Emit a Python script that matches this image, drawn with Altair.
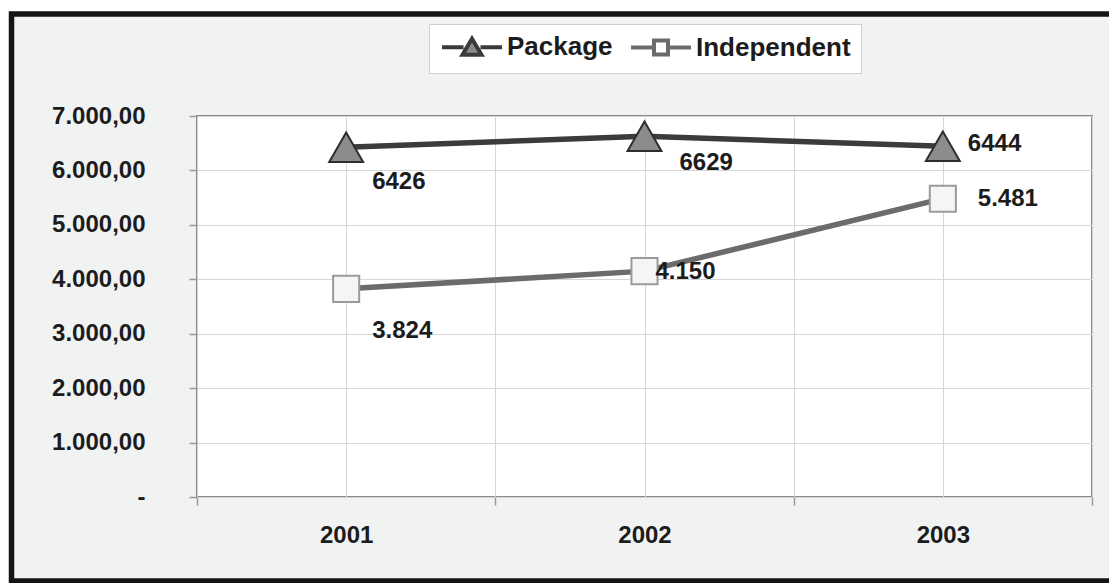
import altair as alt
import pandas as pd

# ---------------- data ----------------
years = [2001, 2002, 2003]
series_names = ["Package", "Independent"]
package_values = [6426, 6629, 6444]
independent_values = [3824, 4150, 5481]
package_labels = ["6426", "6629", "6444"]
independent_labels = ["3.824", "4.150", "5.481"]
y_ticks = [0, 1000, 2000, 3000, 4000, 5000, 6000, 7000]
x_grid = [2000.5, 2001, 2001.5, 2002, 2002.5, 2003, 2003.5]

rows = []
for i, yr in enumerate(years):
    rows.append({"year": yr, "series": "Package", "value": package_values[i], "label": package_labels[i]})
    rows.append({"year": yr, "series": "Independent", "value": independent_values[i], "label": independent_labels[i]})
df = pd.DataFrame(rows)

# ---------------- styles ----------------
W, H = 895, 381
LEFT, TOP = 197, 116
FONT = "Liberation Sans"
TXT = "#1c1c1c"
GRID = "#d6d6d6"

label_offsets = {
    ("Package", 2001): (26, 35),
    ("Package", 2002): (35, 27),
    ("Package", 2003): (25, -2),
    ("Independent", 2001): (26, 42),
    ("Independent", 2002): (11, 1),
    ("Independent", 2003): (35, 0),
}

pkg_legend_path = "M-1,0H1.15 M2.85,0H5 M2,-0.85L2.95,0.75H1.05Z"
ind_legend_path = "M-1,0H1.3 M2.7,0H5 M1.3,-0.7H2.7V0.7H1.3Z"

x_scale = alt.Scale(domain=[2000.5, 2003.5], nice=False, zero=False)
y_scale = alt.Scale(domain=[0, 7000], nice=False, zero=True)

x_axis = alt.Axis(
    title=None,
    values=x_grid,
    labelExpr="datum.value % 1 == 0 ? toString(datum.value) : ''",
    labelOverlap=False,
    labelFlush=False,
    labelFont=FONT, labelFontSize=24, labelFontWeight="bold", labelColor=TXT,
    labelPadding=18,
    domain=False,
    grid=True, gridColor=GRID, gridWidth=1,
    ticks=True, tickSize=8, tickColor="#9a9a9a", tickWidth=1.5,
    tickOpacity={"condition": {"test": "datum.value % 1 != 0", "value": 1}, "value": 0},
)
y_axis = alt.Axis(
    title=None,
    values=y_ticks,
    labelExpr="datum.value == 0 ? '-\u00a0\u00a0\u00a0\u00a0' : replace(replace(replace(format(datum.value, ',.2f'), ',', '#'), '.', ','), '#', '.')",
    labelFont=FONT, labelFontSize=24, labelFontWeight="bold", labelColor=TXT,
    labelPadding=44, labelBaseline="middle",
    domain=False,
    grid=True, gridColor=GRID, gridWidth=1,
    ticks=True, tickSize=8, tickColor="#9a9a9a", tickWidth=1.5,
)

x_enc = alt.X("year:Q", scale=x_scale, axis=x_axis)
y_enc = alt.Y("value:Q", scale=y_scale, axis=y_axis)

base = alt.Chart(df)
one = alt.Data(values=[{"k": 1}])

# white strip outside the black frame
mask = alt.Chart(one).mark_rect(fillOpacity=0, stroke="white", strokeWidth=24).encode(
    x=alt.value(-LEFT - 1), x2=alt.value(2000), y=alt.value(-TOP), y2=alt.value(2000)
)
frame = alt.Chart(one).mark_rect(fillOpacity=0, stroke="#151515", strokeWidth=5.5).encode(
    x=alt.value(11.5 - LEFT), x2=alt.value(1300), y=alt.value(14 - TOP), y2=alt.value(581 - TOP)
)

legend_layer = base.mark_point(filled=True, opacity=0, strokeWidth=4).encode(
    x=x_enc, y=y_enc,
    shape=alt.Shape("series:N", scale=alt.Scale(domain=series_names, range=[pkg_legend_path, ind_legend_path]),
                    legend=alt.Legend(
                        title=None, orient="none", legendX=232, legendY=24 - TOP,
                        direction="horizontal",
                        labelFont=FONT, labelFontSize=26, labelFontWeight="bold", labelColor=TXT,
                        symbolSize=400, symbolStrokeWidth=4, symbolOpacity=1,
                        labelOffset=42, columnPadding=10, padding=10,
                        strokeColor="#cfcfcf", fillColor="white",
                    )),
    fill=alt.Fill("series:N", scale=alt.Scale(domain=series_names, range=["#8c8c8c", "#ffffff"]), legend=None),
    stroke=alt.Stroke("series:N", scale=alt.Scale(domain=series_names, range=["#3b3b3b", "#6b6b6b"]), legend=None),
)

line_pkg = base.transform_filter("datum.series == 'Package'").mark_line(
    color="#3b3b3b", strokeWidth=5.5).encode(x=x_enc, y=y_enc)
line_ind = base.transform_filter("datum.series == 'Independent'").mark_line(
    color="#6b6b6b", strokeWidth=5.5).encode(x=x_enc, y=y_enc)

pts_pkg = base.transform_filter("datum.series == 'Package'").mark_point(
    shape="triangle-up", size=1150, filled=True, fill="#8c8c8c", stroke="#2e2e2e",
    strokeWidth=2, opacity=1).encode(x=x_enc, y=y_enc)
pts_ind = base.transform_filter("datum.series == 'Independent'").mark_point(
    shape="square", size=680, filled=True, fill="#f5f5f5", stroke="#9a9a9a",
    strokeWidth=2, opacity=1).encode(x=x_enc, y=y_enc)

texts = []
for (s, yr), (dx, dy) in label_offsets.items():
    texts.append(
        base.transform_filter(f"datum.series == '{s}' && datum.year == {yr}").mark_text(
            align="left", baseline="middle", dx=dx, dy=dy,
            font=FONT, fontSize=24, fontWeight="bold", color=TXT,
        ).encode(x=x_enc, y=y_enc, text="label:N")
    )

chart = alt.layer(mask, frame, legend_layer, line_pkg, line_ind, pts_pkg, pts_ind, *texts).properties(
    width=W, height=H,
    padding={"left": LEFT, "top": TOP, "right": 1109 - LEFT - W, "bottom": 583 - TOP - H},
    autosize=alt.AutoSizeParams(type="none"),
    background="#f1f3f3",
).configure_view(fill="white", stroke="#8a8a8a", strokeWidth=2)

chart.save("out.html", embed_options={"renderer": "svg", "actions": False})
